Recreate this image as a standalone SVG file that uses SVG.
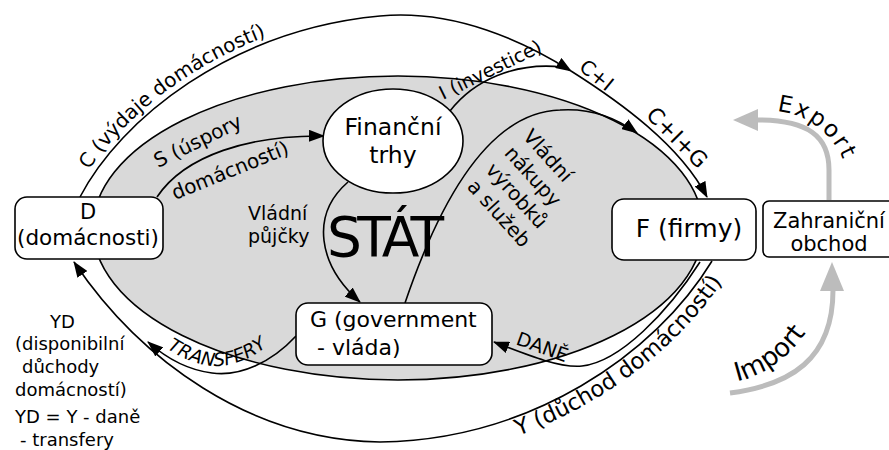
<svg xmlns="http://www.w3.org/2000/svg" width="889" height="450" viewBox="0 0 889 450">
<defs>
<style>
text{font-family:"DejaVu Sans","Liberation Sans",sans-serif;fill:#000}
.box{fill:#fff;stroke:#000;stroke-width:1.6}
.ln{fill:none;stroke:#000;stroke-width:1.6}
.arr{marker-end:url(#ah)}
.gr{fill:none;stroke:#bcbcbc;stroke-width:5}
.grh{fill:#bcbcbc}
.lbl{font-size:20px}
</style>
<marker id="ah" viewBox="0 0 16 12" refX="15" refY="6" markerWidth="16" markerHeight="12" markerUnits="userSpaceOnUse" orient="auto"><path d="M0,0 L16,6 L0,12 z"/></marker>
<path id="tpC" d="M89,170 C138,98 241,24 379,10"/>
<path id="tpY" d="M380,462 C536,459 672,366 729,271"/>
<path id="tpT" d="M160,344 C180,358 200,366 215,366 C240,366 265,352 285,330"/>
<path id="tpE" d="M776.9,111.3 A79,79 0 0 1 847.8,176.3"/>
<path id="tpI" d="M735,382 C762,376 792,358 813,322"/>
</defs>

<g id="node-stat">
<ellipse cx="398" cy="228" rx="305" ry="152" fill="#d9d9d9" stroke="#000" stroke-width="1.6"/>
<text x="327" y="256" font-size="55" textLength="117" lengthAdjust="spacing">STÁT</text>
</g>

<g id="connectors">
<path class="ln arr" d="M80,197 C120,120 230,30 380,16 C455,9 525,42 571,71"/>
<path class="ln arr" d="M571,71 C620,102 680,145 707,197"/>
<path class="ln" d="M450,111 C474,80 515,62 562,67"/>
<path class="ln arr" d="M157,197 C185,155 250,135 324,136"/>
<path class="ln arr" d="M348,182 C310,215 318,265 360,302"/>
<path class="ln arr" d="M405,303 C440,200 490,112 560,110 C590,108 615,117 637,133"/>
<path class="ln arr" d="M712,261 C655,355 530,440 380,442 C250,440 140,360 74,262"/>
<path class="ln arr" d="M700,262 C668,312 620,362 582,366 C560,368 530,356 494,342"/>
<path class="ln arr" d="M296,336 C272,362 240,377 212,373 C188,370 165,357 148,342"/>
<path class="gr" d="M829,200 L829,170 C829,136 808,120 757,120"/>
<polygon class="grh" points="733,120 758,109 758,131"/>
<path class="gr" d="M730,393 C790,385 833,360 833,290"/>
<polygon class="grh" points="832,262 820,291 844,291"/>
</g>

<g id="node-D">
<rect class="box" x="15" y="197" width="148" height="62" rx="12"/>
<text x="88" y="219" font-size="21" text-anchor="middle">D</text>
<text x="88" y="245" font-size="21.5" text-anchor="middle">(domácnosti)</text>
</g>

<g id="node-F">
<rect class="box" x="612" y="199" width="144" height="61" rx="12"/>
<text x="689" y="237" font-size="25" text-anchor="middle">F (firmy)</text>
</g>

<g id="node-Z">
<rect class="box" x="763" y="201" width="140" height="56" rx="6"/>
<text x="829" y="228" font-size="21" text-anchor="middle">Zahraniční</text>
<text x="829" y="251" font-size="21" text-anchor="middle">obchod</text>
</g>

<g id="node-G">
<rect class="box" x="296" y="303" width="196" height="62" rx="12"/>
<text x="310" y="327" font-size="22">G (government</text>
<text x="317" y="355" font-size="22">- vláda)</text>
</g>

<g id="node-fin">
<ellipse cx="393" cy="141" rx="70" ry="52" fill="#fff" stroke="#000" stroke-width="1.6"/>
<text x="393" y="135" font-size="23.5" text-anchor="middle">Finanční</text>
<text x="393" y="163" font-size="23.5" text-anchor="middle">trhy</text>
</g>

<g id="labels">
<text class="lbl"><textPath href="#tpC">C (výdaje domácností)</textPath></text>
<text font-size="22.5"><textPath href="#tpY" startOffset="97%" text-anchor="end">Y (důchod domácností)</textPath></text>
<text font-size="20" transform="translate(158,168) rotate(-26)">S (úspory</text>
<text font-size="20" transform="translate(175,200) rotate(-22)">domácností)</text>
<text font-size="19" transform="translate(443,100) rotate(-26)">I (investice)</text>
<text font-size="20" transform="translate(578,69) rotate(39)">C+I</text>
<text font-size="22" transform="translate(645,116) rotate(45)">C+I+G</text>
<text font-size="20" transform="translate(522,137) rotate(48)"><tspan x="0" y="0">Vládní</tspan><tspan x="0" y="25">nákupy</tspan><tspan x="0" y="50">výrobků</tspan><tspan x="0" y="75">a služeb</tspan></text>
<text font-size="19"><tspan x="248" y="220">Vládní</tspan><tspan x="248" y="243">půjčky</tspan></text>
<text font-size="18.5" font-style="italic"><textPath href="#tpT" startOffset="8">TRANSFERY</textPath></text>
<text font-size="19" transform="translate(515,344) rotate(20)">DANĚ</text>
<text font-size="23" letter-spacing="2"><textPath href="#tpE">Export</textPath></text>
<text font-size="26"><textPath href="#tpI" startOffset="2">Import</textPath></text>
<text font-size="18">
<tspan x="50" y="328">YD</tspan>
<tspan x="15" y="350">(disponibilní</tspan>
<tspan x="22" y="373">důchody</tspan>
<tspan x="15" y="396">domácností)</tspan>
<tspan x="15" y="423">YD = Y - daně</tspan>
<tspan x="20" y="446">- transfery</tspan>
</text>
</g>
</svg>
